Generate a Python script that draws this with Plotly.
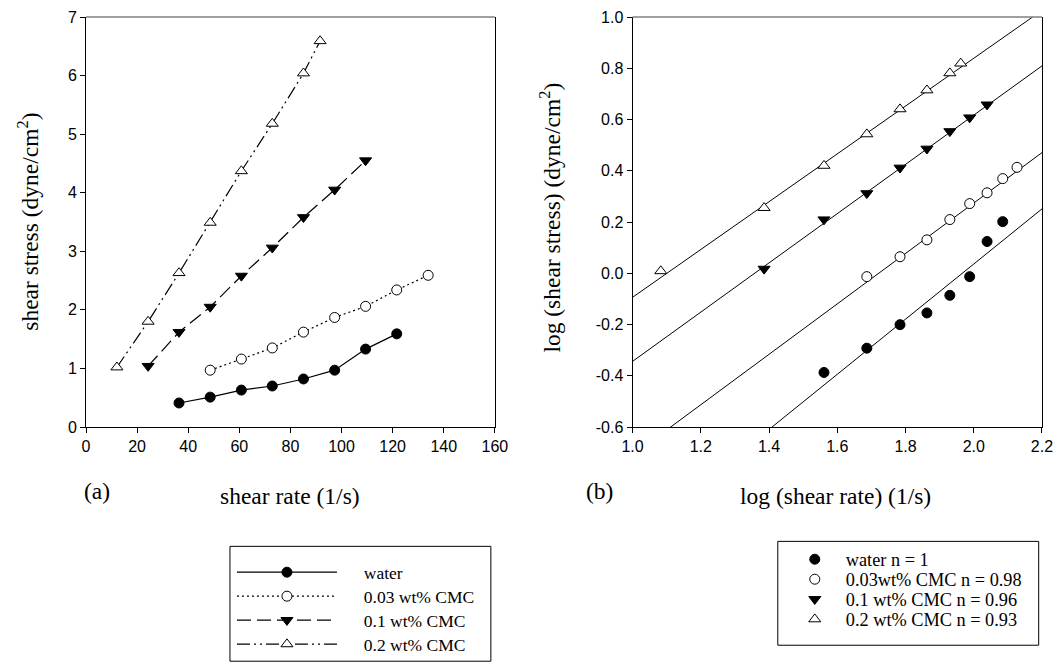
import plotly.graph_objects as go
import numpy as np

# ---------------- data ----------------
water_rate = [36.4, 48.6, 60.8, 72.9, 85.1, 97.3, 109.4, 121.6]
water_stress = [0.41, 0.51, 0.63, 0.70, 0.82, 0.97, 1.33, 1.59]

cmc003_rate = [48.6, 60.8, 72.9, 85.1, 97.3, 109.4, 121.6, 133.9]
cmc003_stress = [0.97, 1.16, 1.35, 1.62, 1.87, 2.06, 2.34, 2.59]

cmc01_rate = [24.3, 36.4, 48.6, 60.8, 72.9, 85.1, 97.3, 109.4]
cmc01_stress = [1.04, 1.62, 2.05, 2.58, 3.06, 3.58, 4.05, 4.55]

cmc02_rate = [12.1, 24.3, 36.4, 48.6, 60.8, 72.9, 85.1, 91.6]
cmc02_stress = [1.02, 1.80, 2.63, 3.49, 4.37, 5.18, 6.04, 6.59]

# power-law fit lines in log-log panel: log(stress) = slope*log(rate) + intercept
fit_slope = [1.076, 0.984, 0.961, 0.933]
fit_intercept = [-2.116, -1.694, -1.305, -1.027]
fit_x = [1.0, 2.2]

series_names_a = ["water", "0.03 wt% CMC", "0.1 wt% CMC", "0.2 wt% CMC"]
series_names_b = ["water n = 1", "0.03wt% CMC n = 0.98",
                  "0.1 wt% CMC n = 0.96", "0.2 wt% CMC n = 0.93"]

log_ticks = [-0.6, -0.4, -0.2, 0.0, 0.2, 0.4, 0.6, 0.8, 1.0]
log_tick_labels = ["-0.6", "-0.4", "-0.2", "0.0", "0.2", "0.4", "0.6", "0.8", "1.0"]

# ---------------- layout geometry ----------------
# the page body has an 8px margin; the figure starts at (8, 8) on screen
OFF = 8
W, H = 1061 - OFF, 664 - OFF
ML = 86 - OFF
MT = 17 - OFF
MR = W - (1042.3 - OFF)
MB = H - (427.5 - OFF)
PW = W - ML - MR
PH = H - MT - MB


def px(xr):
    """reference-screen x -> paper fraction"""
    return (xr - OFF - ML) / PW


def py(yr):
    """reference-screen y -> paper fraction"""
    return (H - MB - (yr - OFF)) / PH


SERIF = "Liberation Serif, Times New Roman, serif"
SANS = "Liberation Sans, Arial, sans-serif"

rates = [water_rate, cmc003_rate, cmc01_rate, cmc02_rate]
stresses = [water_stress, cmc003_stress, cmc01_stress, cmc02_stress]
symbols = ["circle", "circle", "triangle-down", "triangle-up"]
fills = ["black", "white", "black", "white"]
sizes = [10, 10, 10.5, 10.5]
dashes = ["solid", "2px,3px", "14px,6px", "13px,4px,2px,4px,2px,4px"]

fig = go.Figure()

# ---- panel (a)
for i in range(4):
    fig.add_trace(go.Scatter(
        x=rates[i], y=stresses[i], mode="lines+markers",
        name="\u00a0" * 5 + series_names_a[i],
        line=dict(color="black", width=1.2, dash=dashes[i]),
        marker=dict(symbol=symbols[i], size=sizes[i], color=fills[i],
                    line=dict(color="black", width=1)),
        xaxis="x", yaxis="y",
        legend="legend" if i == 0 else f"legend{i + 1}",
    ))

# ---- panel (b): fit lines
for i in range(4):
    fx = np.array(fit_x)
    fig.add_trace(go.Scatter(
        x=fx, y=fit_slope[i] * fx + fit_intercept[i], mode="lines",
        line=dict(color="black", width=1), showlegend=False,
        xaxis="x2", yaxis="y2", hoverinfo="skip",
    ))

# ---- panel (b): points
for i in range(4):
    fig.add_trace(go.Scatter(
        x=np.log10(rates[i]), y=np.log10(stresses[i]), mode="markers",
        name=series_names_b[i],
        marker=dict(symbol=symbols[i], size=sizes[i], color=fills[i],
                    line=dict(color="black", width=1)),
        xaxis="x2", yaxis="y2",
        legend=f"legend{i + 5}",
    ))

axis_common = dict(
    showline=True, linecolor="black", linewidth=1,
    ticks="outside", ticklen=5, tickwidth=1, tickcolor="black",
    showgrid=False, zeroline=False,
    tickfont=dict(family=SANS, size=16, color="black"),
)

fig.update_layout(
    width=W, height=H,
    margin=dict(l=ML, r=MR, t=MT, b=MB, autoexpand=False),
    paper_bgcolor="white", plot_bgcolor="white",
    xaxis=dict(domain=[0, px(495)], range=[0, 160], dtick=20, anchor="y",
               **axis_common),
    yaxis=dict(domain=[0, 1], range=[0, 7], dtick=1, anchor="x", mirror=True,
               **axis_common),
    xaxis2=dict(domain=[px(632.7), 1], range=[1.0, 2.2], dtick=0.2,
                tickformat=".1f", anchor="y2", **axis_common),
    yaxis2=dict(domain=[0, 1], range=[-0.6, 1.0], tickvals=log_ticks,
                ticktext=log_tick_labels, anchor="x2", mirror=True,
                **axis_common),
)

# legends: one per row
rows_a = [573, 597, 621, 645]
rows_b = [560, 580, 600, 620]
for i in range(4):
    key = "legend" if i == 0 else f"legend{i + 1}"
    fig.update_layout({key: dict(
        x=px(232), y=py(rows_a[i]), xanchor="left", yanchor="middle",
        bgcolor="rgba(0,0,0,0)", borderwidth=0, itemwidth=100,
        font=dict(family=SERIF, size=17.5, color="black"))})
    fig.update_layout({f"legend{i + 5}": dict(
        x=px(784), y=py(rows_b[i]), xanchor="left", yanchor="middle",
        bgcolor="rgba(0,0,0,0)", borderwidth=0, itemwidth=52,
        font=dict(family=SERIF, size=18.3, color="black"))})

# legend frames and top borders
fig.add_shape(type="rect", xref="paper", yref="paper",
              x0=px(230), x1=px(491), y0=py(662), y1=py(547),
              line=dict(color="black", width=1))
fig.add_shape(type="rect", xref="paper", yref="paper",
              x0=px(778), x1=px(1039), y0=py(646), y1=py(542),
              line=dict(color="black", width=1))
for xr, yr in [("x domain", "y domain"), ("x2 domain", "y2 domain")]:
    fig.add_shape(type="line", xref=xr, yref=yr, x0=0, x1=1, y0=1, y1=1,
                  line=dict(color="#808080", width=1.5))

# titles and panel labels
ann = [
    ("shear stress (dyne/cm<sup>2</sup>)", 28, 222, -90),
    ("log (shear stress) (dyne/cm<sup>2</sup>)", 550, 218, -90),
    ("shear rate (1/s)", 290, 497, 0),
    ("log (shear rate) (1/s)", 836, 497, 0),
    ("(a)", 97, 492, 0),
    ("(b)", 600, 492, 0),
]
for text, ax, ay, ang in ann:
    fig.add_annotation(text=text, xref="paper", yref="paper", x=px(ax), y=py(ay),
                       xanchor="center", yanchor="middle", showarrow=False,
                       textangle=ang, font=dict(family=SERIF, size=23.5, color="black"))

fig.write_html("out.html")
